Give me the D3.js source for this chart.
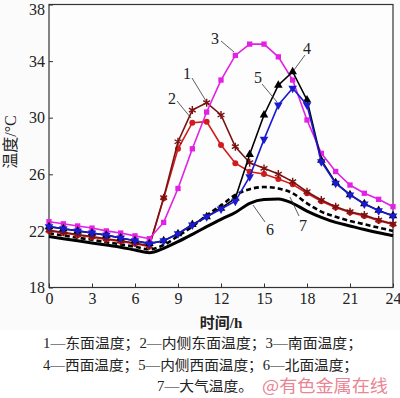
<!DOCTYPE html>
<html>
<head>
<meta charset="utf-8">
<script src="https://cdn.jsdelivr.net/npm/d3@7"></script>
<style>
  body { margin: 0; background: #fbfbfb; }
  svg { display: block; }
  .tick text { font-family: "Liberation Serif", serif; font-size: 16px; fill: #222; }
  .tick line { stroke: #333; }
</style>
</head>
<body>
<svg id="chart" width="400" height="398"></svg>
<script>
// hours along the x axis
const hours = [0,1,2,3,4,5,6,7,8,9,10,11,12,13,14,15,16,17,18,19,20,21,22,23,24];
const xTicks = [0,3,6,9,12,15,18,21,24];
const yTicks = [18,22,26,30,34,38];

// 1 东面温度
const east = [22.05,21.9,21.75,21.6,21.45,21.3,21.15,20.95,24.35,28.3,30.54,31.06,30.19,27.95,26.82,26.42,26.02,25.48,24.77,24.18,23.71,23.36,23.12,22.77,22.5];
// 2 内侧东面温度
const eastIn = [22.0,21.85,21.7,21.55,21.4,21.25,21.1,20.9,24.3,27.8,29.65,29.72,28.07,26.78,26.18,26.02,25.67,25.29,24.66,24.1,23.65,23.3,23.05,22.72,22.45];
// 3 南面温度
const south = [22.65,22.5,22.35,22.2,22.0,21.85,21.65,21.45,22.6,25.0,27.8,30.4,32.66,34.4,35.2,35.2,34.3,32.66,29.84,27.48,26.2,25.24,24.66,24.23,23.71];
// 4 西面温度
const west = [22.3,22.15,22.0,21.85,21.7,21.5,21.3,21.1,21.3,21.8,22.45,23.0,23.6,24.3,27.4,30.19,32.3,33.25,31.25,27.0,25.4,24.56,23.92,23.45,23.07];
// 5 内侧西面温度
const westIn = [22.3,22.15,22.0,21.85,21.7,21.5,21.3,21.1,21.3,21.8,22.42,23.0,23.55,24.1,25.83,28.47,30.9,32.08,30.9,26.89,25.36,24.54,23.9,23.43,23.05];
// 6 北面温度
const north = [21.6,21.45,21.3,21.15,21.0,20.85,20.65,20.46,20.77,21.24,21.76,22.3,22.82,23.3,23.95,24.22,24.25,23.95,23.4,22.96,22.6,22.35,22.1,21.87,21.66];
// 7 大气温度
const air = [21.83,21.68,21.52,21.37,21.2,21.05,20.88,20.7,21.0,21.64,22.3,23.1,23.8,24.54,24.95,25.1,25.0,24.66,23.95,23.36,23.0,22.7,22.47,22.23,22.0];

const captions = [
    "1—东面温度；2—内侧东面温度；3—南面温度；",
    "4—西面温度；5—内侧西面温度；6—北面温度；",
    "7—大气温度。"
];

const svg = d3.select('#chart');
const plotL = 49, plotR = 393, plotT = 4.5, plotB = 287.5;

const x = d3.scaleLinear().domain([0, 24]).range([plotL, plotR]);
const y = d3.scaleLinear().domain([18, 38]).range([plotB, plotT]);

svg.append('rect').attr('x', 0).attr('y', 330).attr('width', 400).attr('height', 68).attr('fill', '#fff');

// frame
svg.append('rect')
    .attr('x', plotL).attr('y', plotT)
    .attr('width', plotR - plotL).attr('height', plotB - plotT)
    .attr('fill', '#fdfdfd').attr('stroke', '#333').attr('stroke-width', 1.2);

const xAxis = svg.append('g')
    .attr('transform', `translate(0,${plotB})`)
    .call(d3.axisBottom(x).tickValues(xTicks).tickSize(-4).tickFormat(d3.format('d')));
xAxis.select('.domain').remove();
xAxis.selectAll('text').attr('y', 16).attr('dy', 0);

const yAxis = svg.append('g')
    .attr('transform', `translate(${plotL},0)`)
    .call(d3.axisLeft(y).tickValues(yTicks).tickSize(-4).tickPadding(4));
yAxis.select('.domain').remove();
// top label sits against the page edge, nudge it so it stays whole
yAxis.selectAll('text').filter(d => d === 38).attr('dy', '0.62em');

const series = [
    {data: north, color: '#000', width: 3, dash: null, curve: d3.curveMonotoneX},
    {data: air, color: '#000', width: 2.6, dash: '5,3', curve: d3.curveMonotoneX},
    {data: eastIn, color: '#d01c1c', width: 1.6, marker: 'circle'},
    {data: east, color: '#7a1212', width: 1.6, marker: 'asterisk'},
    {data: south, color: '#e320e3', width: 1.6, marker: 'square'},
    {data: west, color: '#000', width: 1.6, marker: 'up'},
    {data: westIn, color: '#1a1acf', width: 1.6, marker: 'down'}
];

const symbols = {
    circle: d3.symbol(d3.symbolCircle, 28),
    square: d3.symbol(d3.symbolSquare, 28),
    up: d3.symbol(d3.symbolTriangle, 32),
    asterisk: d3.symbol(d3.symbolAsterisk, 44)
};

series.forEach(s => {
    const line = d3.line()
        .x((d, i) => x(hours[i]))
        .y(d => y(d))
        .curve(s.curve || d3.curveLinear);

    svg.append('path')
        .datum(s.data)
        .attr('fill', 'none')
        .attr('stroke', s.color)
        .attr('stroke-width', s.width)
        .attr('stroke-dasharray', s.dash)
        .attr('d', line);

    if (!s.marker) return;
    const g = svg.append('g');
    g.selectAll('path')
        .data(s.data)
        .join('path')
        .attr('transform', (d, i) => {
            const r = s.marker === 'down' ? ' rotate(180)' : '';
            return `translate(${x(hours[i])},${y(d)})${r}`;
        })
        .attr('d', s.marker === 'down' ? symbols.up() : symbols[s.marker]())
        .attr('fill', s.marker === 'asterisk' ? 'none' : s.color)
        .attr('stroke', s.marker === 'asterisk' ? s.color : 'none')
        .attr('stroke-width', 1.4);
});

// curve labels with leader lines
const labels = [
    {t: '1', lx: 187, ly: 73, x1: 192, y1: 78, x2: 206, y2: 101},
    {t: '2', lx: 172, ly: 98, x1: 177, y1: 101, x2: 191, y2: 118},
    {t: '3', lx: 215, ly: 38, x1: 221, y1: 41, x2: 234, y2: 52},
    {t: '4', lx: 307, ly: 48, x1: 305, y1: 55, x2: 294, y2: 70},
    {t: '5', lx: 258, ly: 77, x1: 262, y1: 84, x2: 277, y2: 102},
    {t: '6', lx: 270, ly: 229, x1: 265, y1: 222, x2: 253, y2: 205},
    {t: '7', lx: 303, ly: 225, x1: 299, y1: 216, x2: 290, y2: 197}
];
labels.forEach(l => {
    svg.append('line')
        .attr('x1', l.x1).attr('y1', l.y1).attr('x2', l.x2).attr('y2', l.y2)
        .attr('stroke', '#333').attr('stroke-width', 0.8);
    svg.append('text')
        .attr('x', l.lx).attr('y', l.ly)
        .attr('text-anchor', 'middle').attr('dy', '0.35em')
        .style('font-family', '"Liberation Serif", serif')
        .style('font-size', '16px')
        .attr('fill', '#222')
        .text(l.t);
});

// axis titles
svg.append('text')
    .attr('transform', 'translate(10,142) rotate(-90)')
    .attr('text-anchor', 'middle').attr('dy', '0.35em')
    .style('font-family', '"Liberation Serif", "Noto Sans CJK SC", serif')
    .style('font-size', '16px')
    .attr('fill', '#222')
    .text('温度/°C');

svg.append('text')
    .attr('x', 221).attr('y', 323)
    .attr('text-anchor', 'middle').attr('dy', '0.35em')
    .style('font-family', '"Liberation Serif", "Noto Sans CJK SC", serif')
    .style('font-size', '15px').style('font-weight', 'bold')
    .attr('fill', '#222')
    .text('时间/h');

// caption
const capPos = [{x: 43, y: 343, w: 319}, {x: 43, y: 365, w: 315}, {x: 157, y: 386, w: 96}];
captions.forEach((c, i) => {
    svg.append('text')
        .attr('x', capPos[i].x).attr('y', capPos[i].y)
        .attr('dy', '0.35em')
        .attr('textLength', capPos[i].w)
        .attr('lengthAdjust', 'spacingAndGlyphs')
        .style('font-family', '"Liberation Serif", "Noto Sans CJK SC", serif')
        .style('font-size', '14px')
        .attr('fill', '#222')
        .text(c);
});

svg.append('text')
    .attr('x', 262).attr('y', 386)
    .attr('dy', '0.35em')
    .attr('textLength', 126)
    .attr('lengthAdjust', 'spacingAndGlyphs')
    .style('font-family', '"Noto Sans CJK SC", sans-serif')
    .style('font-size', '17px')
    .attr('fill', '#e98594')
    .text('@有色金属在线');
</script>
</body>
</html>
